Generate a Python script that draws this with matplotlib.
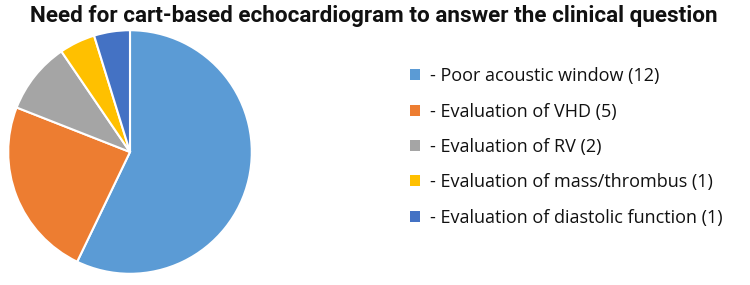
import matplotlib
matplotlib.use("Agg")
import matplotlib.pyplot as plt
from matplotlib.patches import Patch

labels = ["Poor acoustic window", "Evaluation of VHD", "Evaluation of RV",
          "Evaluation of mass/thrombus", "Evaluation of diastolic function"]
counts = [12, 5, 2, 1, 1]
colors = ["#5B9BD5", "#ED7D31", "#A5A5A5", "#FFC000", "#4472C4"]

W, H = 750, 285
fig = plt.figure(figsize=(W / 100, H / 100), dpi=100)

# pie axes: center ~ (130, 152), radius ~ 123 px
cx, cy, r = 130, 152, 123
ax = fig.add_axes([(cx - r) / W, (H - cy - r) / H, 2 * r / W, 2 * r / H])
ax.pie(counts, colors=colors, startangle=90, counterclock=False,
       wedgeprops=dict(edgecolor="white", linewidth=1.5))
ax.set_xlim(-1.01, 1.01)
ax.set_ylim(-1.01, 1.01)
ax.set_aspect("equal")
ax.axis("off")

fig.text(0.5 - 1 / W, 1 - 16 / H, "Need for cart-based echocardiogram to answer the clinical question",
         ha="center", va="center", fontsize=16.2, fontweight="bold",
         family=["Roboto", "DejaVu Sans"], color="#111111")

handles = [Patch(facecolor=c, edgecolor="none") for c in colors]
leg_labels = [f"- {l} ({n})" for l, n in zip(labels, counts)]
leg = fig.legend(handles, leg_labels, loc="upper left",
                 bbox_to_anchor=(394 / W, 1 - 51 / H), frameon=False,
                 handlelength=0.55, handleheight=0.55, handletextpad=0.55,
                 labelspacing=0.96, prop=dict(family="Open Sans", size=13.0))
for t in leg.get_texts():
    t.set_color("#111111")

fig.savefig("out.png", dpi=100)
